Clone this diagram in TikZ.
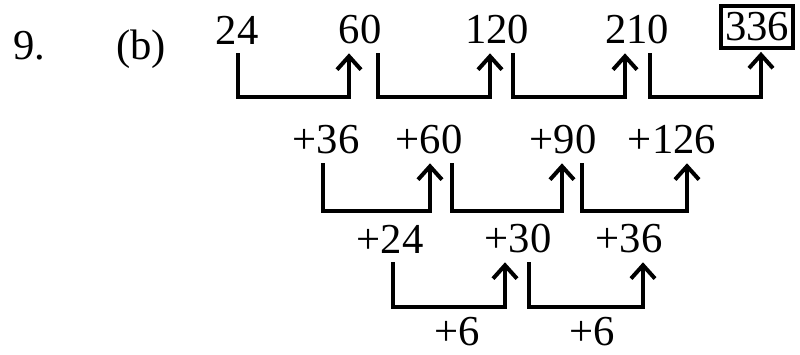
\documentclass[tikz,border=0pt]{standalone}
\usepackage{fontspec}
\setmainfont{Liberation Serif}
\usetikzlibrary{arrows.meta}

\begin{document}
\begin{tikzpicture}[
    x=0.75pt, y=-0.75pt,
    every node/.style={text=black, font=\fontsize{32}{38}\selectfont},
    num/.style={inner xsep=3pt, inner ysep=5pt},
    answer/.style={num, draw, line width=2.8pt},
    link/.style={line width=2.8pt, -{Straight Barb[length=10pt, width=18pt, line width=3pt]}}
]
    \useasboundingbox (0,0) rectangle (800,354);

    % ==========================
    % Question label
    % ==========================
    \node (qno) at (29,46) {9.};
    \node (part) at (141,49) {(b)};

    % ==========================
    % Rows of the difference table
    % ==========================
    \foreach \i/\x/\t in {a/237/24, b/360/60, c/497/120, d/637/210}
        \node[num] (r1\i) at (\x,30) {\t};
    \node[answer] (r1e) at (757,27) {336};

    \foreach \i/\x/\t in {a/326/+36, b/429/+60, c/563/+90, d/672/+126}
        \node[num] (r2\i) at (\x,140) {\t};

    \foreach \i/\x/\t in {a/390/+24, b/518/+30, c/629/+36}
        \node[num] (r3\i) at (\x,239) {\t};

    \foreach \i/\x in {a/457, b/592}
        \node (r4\i) at (\x,332) {+6};

    % ==========================
    % Bent arrows: down, across, up
    % ==========================
    \foreach \a/\da/\b/\db/\h in {
        r1a/1/r1b/-11/44,
        r1b/18/r1c/-7/44,
        r1c/16/r1d/-12/44,
        r1d/13/r1e/4/44,
        r2a/-3/r2b/1/48,
        r2b/23/r2c/-1/48,
        r2c/19/r2d/15/48,
        r3a/3/r3b/-13/45,
        r3b/11/r3c/14/45}
    {
        \draw[link] ([shift={(\da,2)}]\a.south) -- ++(0,\h) -| ([shift={(\db,2)}]\b.south);
    }

\end{tikzpicture}
\end{document}
